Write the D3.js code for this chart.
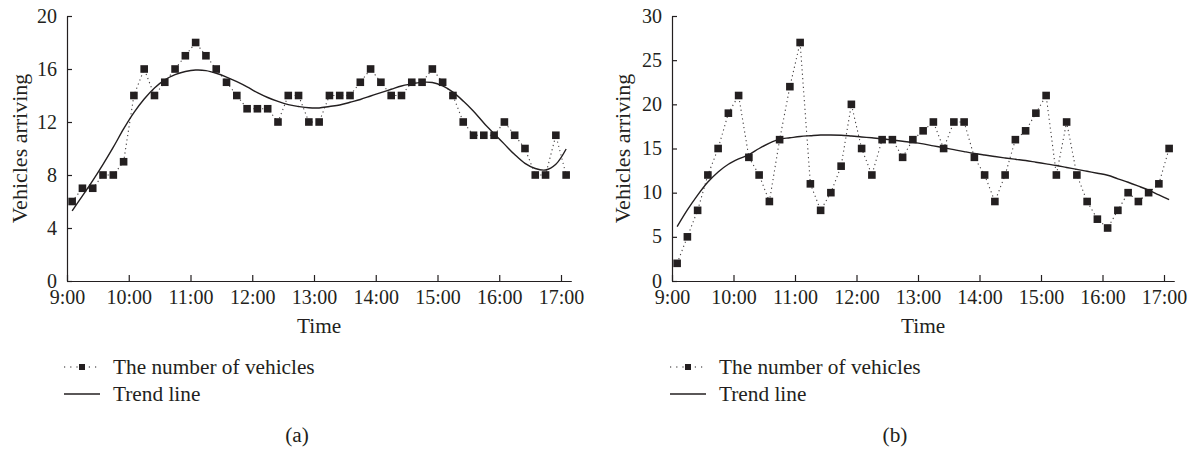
<!DOCTYPE html>
<html><head><meta charset="utf-8">
<script src="https://cdn.jsdelivr.net/npm/d3@7"></script>
<style>
html,body{margin:0;padding:0;background:#fff;}
svg{display:block;font-family:"Liberation Serif","Times New Roman",serif;}
</style></head><body>
<svg id="chart" width="1194" height="449"></svg>
<script>
// ---- data ----
const sampleTimes = ["9:05","9:15","9:25","9:35","9:45","9:55",
  "10:05","10:15","10:25","10:35","10:45","10:55",
  "11:05","11:15","11:25","11:35","11:45","11:55",
  "12:05","12:15","12:25","12:35","12:45","12:55",
  "13:05","13:15","13:25","13:35","13:45","13:55",
  "14:05","14:15","14:25","14:35","14:45","14:55",
  "15:05","15:15","15:25","15:35","15:45","15:55",
  "16:05","16:15","16:25","16:35","16:45","16:55","17:05"];
const tickLabels = ["9:00","10:00","11:00","12:00","13:00","14:00","15:00","16:00","17:00"];

const vehiclesA = [6,7,7,8,8,9,14,16,14,15,16,17,18,17,16,15,14,13,13,13,12,14,14,12,12,
  14,14,14,15,16,15,14,14,15,15,16,15,14,12,11,11,11,12,11,10,8,8,11,8];
const trendA = [5.3,6.42,7.57,8.8,10.1,11.48,12.71,13.74,14.57,15.18,15.58,15.81,15.92,15.88,
  15.68,15.39,15.04,14.65,14.22,13.85,13.55,13.31,13.17,13.07,13.06,13.17,13.28,13.49,13.7,
  13.96,14.22,14.47,14.72,14.87,15.0,14.98,14.72,14.25,13.58,12.81,11.93,11.12,10.33,9.54,
  8.88,8.49,8.38,8.81,9.96];
const yTicksA = [0,4,8,12,16,20];

const vehiclesB = [2,5,8,12,15,19,21,14,12,9,16,22,27,11,8,10,13,20,15,12,16,16,14,16,17,
  18,15,18,18,14,12,9,12,16,17,19,21,12,18,12,9,7,6,8,10,9,10,11,15];
const trendB = [6.15,8.04,9.72,11.2,12.35,13.22,13.82,14.3,15.0,15.61,16.06,16.21,16.36,16.45,
  16.53,16.53,16.5,16.41,16.31,16.21,16.1,15.96,15.82,15.69,15.52,15.3,15.09,14.87,14.65,
  14.44,14.26,14.09,13.93,13.78,13.64,13.45,13.26,13.07,12.85,12.64,12.42,12.2,11.97,11.57,
  11.18,10.74,10.28,9.74,9.2];
const yTicksB = [0,5,10,15,20,25,30];

const legendLabels = ["The number of vehicles","Trend line"];
const axisTitles = {x:"Time", y:"Vehicles arriving"};

// ---- drawing ----
const INK = "#231f20";
const FS_TICK = 20, FS = 21.3, FS_Y = 22;
const toMin = s => { const [h,m] = s.split(":").map(Number); return (h-9)*60+m; };
const svg = d3.select("#chart");

function panel(cfg){
  const g = svg.append("g");
  const x = d3.scaleLinear().domain([0,490]).range([cfg.x0, cfg.x0 + 490*cfg.hour/60]);
  const y = d3.scaleLinear().domain([0,cfg.yMax]).range([281,16]);

  const ya = g.append("g").attr("transform",`translate(${cfg.x0},0)`)
    .call(d3.axisLeft(y).tickValues(cfg.yTicks).tickSizeInner(-5).tickSizeOuter(0).tickPadding(10));
  const xa = g.append("g").attr("transform","translate(0,281)")
    .call(d3.axisBottom(x).tickValues(tickLabels.map(toMin)).tickFormat((d,i)=>tickLabels[i])
      .tickSizeInner(-6).tickSizeOuter(0).tickPadding(9));
  [ya,xa].forEach(a=>{
    a.selectAll("path,line").attr("stroke",INK).attr("stroke-width",1.2);
    a.selectAll("text").attr("fill",INK).style("font-size",FS_TICK+"px")
      .style("font-family",'"Liberation Serif","Times New Roman",serif');
  });
  ya.selectAll("text").attr("dy","0.3em");

  const pts = sampleTimes.map((t,i)=>({m:toMin(t), v:cfg.vehicles[i], tr:cfg.trend[i]}));
  g.append("path").datum(pts)
    .attr("d", d3.line().x(d=>x(d.m)).y(d=>y(d.v)))
    .attr("fill","none").attr("stroke",INK).attr("stroke-width",1.1)
    .attr("stroke-dasharray","1.2,3.2").attr("opacity",0.85);
  g.append("path").datum(pts)
    .attr("d", d3.line().curve(d3.curveCatmullRom.alpha(0.5)).x(d=>x(d.m)).y(d=>y(d.tr)))
    .attr("fill","none").attr("stroke",INK).attr("stroke-width",1.4);
  const s = 7.6;
  g.append("g").selectAll("rect").data(pts).join("rect")
    .attr("x",d=>x(d.m)-s/2).attr("y",d=>y(d.v)-s/2)
    .attr("width",s).attr("height",s).attr("fill",INK);

  g.append("text").attr("x",(cfg.x0 + x.range()[1])/2).attr("y",333)
    .attr("text-anchor","middle").attr("fill",INK).style("font-size",FS+"px").text(axisTitles.x);
  g.append("text").attr("transform",`translate(${cfg.yLabelX},148.5) rotate(-90)`)
    .attr("text-anchor","middle").attr("fill",INK).style("font-size",FS_Y+"px").text(axisTitles.y);

  const lx = cfg.legendX;
  const l1 = 367, l2 = 394;
  g.append("line").attr("x1",lx).attr("x2",lx+36).attr("y1",l1).attr("y2",l1)
    .attr("stroke",INK).attr("stroke-width",1.1).attr("stroke-dasharray","1.2,5");
  g.append("rect").attr("x",lx+18-3).attr("y",l1-3).attr("width",6).attr("height",6).attr("fill",INK);
  g.append("line").attr("x1",lx).attr("x2",lx+36).attr("y1",l2).attr("y2",l2)
    .attr("stroke",INK).attr("stroke-width",1.3);
  g.append("text").attr("x",lx+49).attr("y",l1+7).attr("fill",INK).style("font-size",FS+"px").text(legendLabels[0]);
  g.append("text").attr("x",lx+49).attr("y",l2+7).attr("fill",INK).style("font-size",FS+"px").text(legendLabels[1]);

  g.append("text").attr("x",cfg.captionX).attr("y",442).attr("text-anchor","middle")
    .attr("fill",INK).style("font-size",FS+"px").text(cfg.caption);
}

panel({x0:67, hour:61.75, yMax:20, yTicks:yTicksA, vehicles:vehiclesA, trend:trendA,
  yLabelX:27, legendX:64, captionX:297, caption:"(a)"});
panel({x0:672, hour:61.5, yMax:30, yTicks:yTicksB, vehicles:vehiclesB, trend:trendB,
  yLabelX:630, legendX:670, captionX:895, caption:"(b)"});
</script>
</body></html>
